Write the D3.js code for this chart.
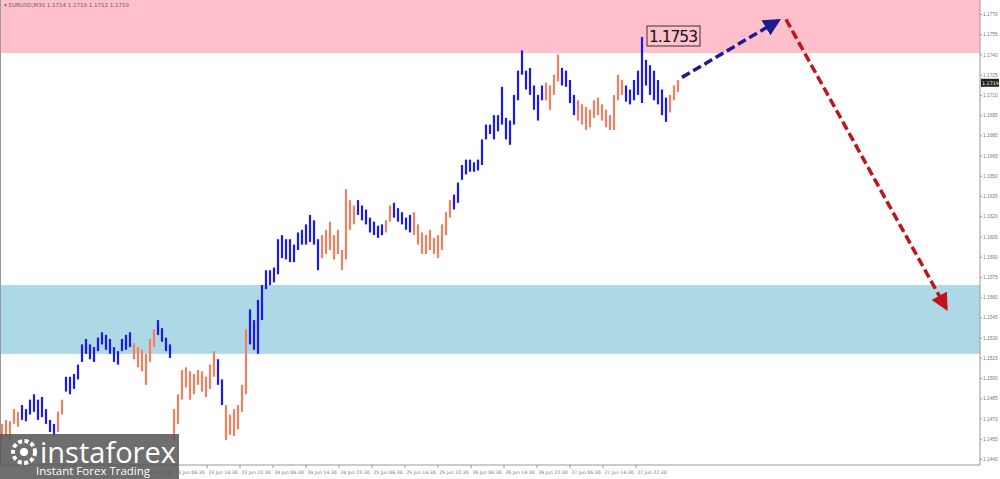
<!DOCTYPE html>
<html><head><meta charset="utf-8">
<script src="https://cdn.jsdelivr.net/npm/d3@7"></script>
<style>body{margin:0;background:#fff}svg{display:block;font-family:"DejaVu Sans",sans-serif}</style>
</head><body><svg id="c" width="1000" height="479"></svg>
<script>
// bar highs / lows, one bar per step, and wave colour per bar (B blue, S salmon)
const highs = [1.1466,1.1469,1.1468,1.1477,1.1475,1.1480,1.1477,1.1484,1.1488,1.1484,1.1486,1.1477,1.1469,1.1466,1.1475,1.1484,1.1501,1.1501,1.1503,1.1510,
1.1525,1.1529,1.1525,1.1523,1.1530,1.1534,1.1532,1.1529,1.1523,1.1520,1.1529,1.1532,1.1534,1.1526,1.1523,1.1521,1.1518,1.1529,1.1536,1.1543,
1.1537,1.1530,1.1525,1.1477,1.1488,1.1506,1.1508,1.1505,1.1503,1.1506,1.1505,1.1501,1.1510,1.1520,1.1514,1.1499,1.1480,1.1473,1.1477,1.1480,
1.1495,1.1536,1.1551,1.1543,1.1558,1.1569,1.1580,1.1580,1.1582,1.1603,1.1606,1.1603,1.1603,1.1599,1.1608,1.1610,1.1614,1.1621,1.1617,1.1603,
1.1606,1.1610,1.1616,1.1606,1.1610,1.1595,1.1640,1.1632,1.1628,1.1632,1.1628,1.1625,1.1619,1.1616,1.1613,1.1614,1.1617,1.1628,1.1630,1.1626,
1.1623,1.1619,1.1621,1.1623,1.1614,1.1608,1.1606,1.1610,1.1604,1.1606,1.1614,1.1623,1.1632,1.1636,1.1645,1.1658,1.1662,1.1662,1.1660,1.1662,
1.1677,1.1688,1.1688,1.1695,1.1695,1.1716,1.1693,1.1691,1.1710,1.1728,1.1743,1.1728,1.1730,1.1717,1.1710,1.1717,1.1719,1.1717,1.1725,1.1740,
1.1730,1.1728,1.1721,1.1710,1.1706,1.1703,1.1701,1.1699,1.1706,1.1708,1.1703,1.1699,1.1695,1.1710,1.1725,1.1721,1.1717,1.1714,1.1721,1.1728,
1.1753,1.1736,1.1732,1.1728,1.1721,1.1714,1.1708,1.1710,1.1717,1.1721];
const lows = [1.1454,1.1456,1.1454,1.1466,1.1464,1.1469,1.1468,1.1473,1.1475,1.1469,1.1471,1.1466,1.1460,1.1457,1.1460,1.1473,1.1490,1.1488,1.1492,1.1499,
1.1512,1.1518,1.1514,1.1512,1.1520,1.1525,1.1521,1.1518,1.1512,1.1510,1.1520,1.1521,1.1523,1.1514,1.1508,1.1505,1.1495,1.1512,1.1523,1.1532,
1.1527,1.1520,1.1515,1.1454,1.1466,1.1484,1.1493,1.1484,1.1488,1.1495,1.1490,1.1486,1.1492,1.1501,1.1495,1.1480,1.1454,1.1458,1.1457,1.1462,
1.1475,1.1488,1.1525,1.1521,1.1518,1.1543,1.1566,1.1569,1.1571,1.1577,1.1589,1.1588,1.1586,1.1586,1.1595,1.1599,1.1599,1.1601,1.1599,1.1580,
1.1589,1.1592,1.1595,1.1588,1.1592,1.1580,1.1588,1.1610,1.1614,1.1621,1.1617,1.1614,1.1608,1.1606,1.1604,1.1606,1.1608,1.1616,1.1619,1.1616,
1.1614,1.1610,1.1608,1.1606,1.1599,1.1592,1.1592,1.1595,1.1592,1.1589,1.1595,1.1606,1.1619,1.1625,1.1630,1.1647,1.1651,1.1653,1.1653,1.1654,
1.1658,1.1677,1.1681,1.1677,1.1683,1.1688,1.1677,1.1673,1.1688,1.1706,1.1725,1.1714,1.1710,1.1699,1.1691,1.1706,1.1706,1.1699,1.1710,1.1720,
1.1717,1.1716,1.1704,1.1695,1.1691,1.1688,1.1684,1.1686,1.1693,1.1695,1.1691,1.1686,1.1684,1.1684,1.1706,1.1710,1.1705,1.1703,1.1706,1.1710,
1.1704,1.1717,1.1710,1.1706,1.1703,1.1695,1.1690,1.1697,1.1706,1.1712];
const waves = "SSSSSBBBBBBBBBSSBBBBBBBBBBBBBBBBBSSSSSSBBBBSSSSSSSSSSSBBSSSSSSBBBBBBBBBBBBBBBBBBSSSSSSSSSBBBBBBBSSBBBBBSSSSSSSSSSBBBBBBBBBBBBBBBBBBBBBBBSSSSBBBBSSSSSSSSSSSSBBBBBBBBBBBSSSS";

const priceTicks = d3.range(0, 23).map(i => +(1.1440 + i * 0.0015).toFixed(4));
const timeLabels = ["21 Jun 22:30","22 Jun 06:30","22 Jun 14:30","22 Jun 22:30","23 Jun 06:30","23 Jun 14:30","23 Jun 22:30",
  "24 Jun 06:30","24 Jun 14:30","24 Jun 22:30","25 Jun 06:30","25 Jun 14:30","25 Jun 22:30","26 Jun 06:30","26 Jun 14:30",
  "26 Jun 22:30","27 Jun 06:30","27 Jun 14:30","27 Jun 22:30"];
const timeLabelIndex = d3.range(timeLabels.length).map(i => 14 + i * 8.25);

const resistZone = [1.1741, 1.1800];
const supportZone = [1.1518, 1.1569];
const arrowUp = [[170, 1.1723], [194, 1.1765]];
const arrowDown = [[196, 1.1766], [236, 1.1552]];
const peakLabel = "1.1753";
const lastPrice = 1.1719;

const W = 980, H = 465;
const svg = d3.select("#c");
const x = d3.scaleLinear().domain([0, 169]).range([2, 678]);
const y = d3.scaleLinear().domain([1.1440, 1.1770]).range([459, 14]);

svg.append("rect").attr("x", 0).attr("y", y(resistZone[1])).attr("width", W).attr("height", y(resistZone[0]) - y(resistZone[1])).attr("fill", "#ffc0cb");
svg.append("rect").attr("x", 0).attr("y", y(supportZone[1])).attr("width", W).attr("height", y(supportZone[0]) - y(supportZone[1])).attr("fill", "#add8e6");

// bars
svg.append("g").selectAll("line").data(highs).join("line")
  .attr("x1", (d, i) => x(i)).attr("x2", (d, i) => x(i))
  .attr("y1", d => y(d)).attr("y2", (d, i) => y(lows[i]))
  .attr("stroke", (d, i) => waves[i] === "B" ? "#1a1af0" : "#f08060").attr("stroke-width", 2.2);

// frame + axes
svg.append("line").attr("x1", W).attr("x2", W).attr("y1", 0).attr("y2", H).attr("stroke", "#999");
svg.append("line").attr("x1", 0).attr("x2", W).attr("y1", H).attr("y2", H).attr("stroke", "#999");
svg.append("line").attr("x1", 0.5).attr("x2", 0.5).attr("y1", 0).attr("y2", H).attr("stroke", "#999");

const ya = svg.append("g").attr("transform", `translate(${W},0)`)
  .call(d3.axisRight(y).tickValues(priceTicks).tickFormat(d3.format(".4f")).tickSize(2));
ya.select(".domain").remove();
ya.selectAll("text").attr("font-size", 4.8).attr("fill", "#777").attr("x", 3);
ya.selectAll("line").attr("stroke", "#999");

svg.append("rect").attr("x", W + 1).attr("y", y(lastPrice) - 4).attr("width", 18).attr("height", 8).attr("fill", "#222");
svg.append("text").attr("x", W + 2).attr("y", y(lastPrice) + 2).attr("font-size", 4.8).attr("fill", "#fff").text(lastPrice.toFixed(4));

const xa = svg.append("g").attr("transform", `translate(0,${H})`);
xa.selectAll("text").data(timeLabels).join("text")
  .attr("x", (d, i) => x(timeLabelIndex[i])).attr("y", 9).attr("font-size", 4.6).attr("fill", "#777").attr("text-anchor", "middle").text(d => d);
xa.selectAll("line").data(timeLabels).join("line")
  .attr("x1", (d, i) => x(timeLabelIndex[i]) - 16).attr("x2", (d, i) => x(timeLabelIndex[i]) - 16).attr("y1", 0).attr("y2", 3).attr("stroke", "#999");

svg.append("text").attr("x", 4).attr("y", 7).attr("font-size", 5.5).attr("fill", "#666").text("▾ EURUSD,M30  1.1714 1.1719 1.1712 1.1719");

// arrows
const defs = svg.append("defs");
[["ab", "#1c1c8c"], ["ar", "#c0141c"]].forEach(([id, c]) => {
  defs.append("marker").attr("id", id).attr("viewBox", "0 0 10 10").attr("refX", 8).attr("refY", 5)
    .attr("markerWidth", 5).attr("markerHeight", 5).attr("orient", "auto")
    .append("path").attr("d", "M0,0L10,5L0,10z").attr("fill", c);
});
const line = d3.line().x(d => x(d[0])).y(d => y(d[1]));
svg.append("path").attr("d", line(arrowUp)).attr("stroke", "#1c1c8c").attr("stroke-width", 3.5).attr("stroke-dasharray", "9,4").attr("fill", "none").attr("marker-end", "url(#ab)");
svg.append("path").attr("d", line(arrowDown)).attr("stroke", "#c0141c").attr("stroke-width", 3.5).attr("stroke-dasharray", "9,4").attr("fill", "none").attr("marker-end", "url(#ar)");

// peak label
svg.append("rect").attr("x", x(160) + 5).attr("y", 26).attr("width", 53).attr("height", 20).attr("fill", "none").attr("stroke", "#333");
svg.append("text").attr("x", x(160) + 7).attr("y", 42).attr("font-size", 15.5).attr("fill", "#111").attr("textLength", 49).text(peakLabel);

// logo
const lg = svg.append("g");
lg.append("rect").attr("x", 0).attr("y", 434).attr("width", 179).attr("height", 45).attr("fill", "#555").attr("opacity", 0.85);
lg.append("circle").attr("cx", 24).attr("cy", 452).attr("r", 11).attr("fill", "none").attr("stroke", "#fff").attr("stroke-width", 4).attr("stroke-dasharray", "4,2.5");
lg.append("circle").attr("cx", 24).attr("cy", 452).attr("r", 4).attr("fill", "#fff");
lg.append("text").attr("x", 40).attr("y", 463).attr("font-size", 29).attr("fill", "#fff").attr("font-family", "Open Sans").text("instaforex");
lg.append("text").attr("x", 36).attr("y", 475).attr("font-size", 11.5).attr("fill", "#fff").attr("font-family", "Open Sans").text("Instant Forex Trading");
</script></body></html>
